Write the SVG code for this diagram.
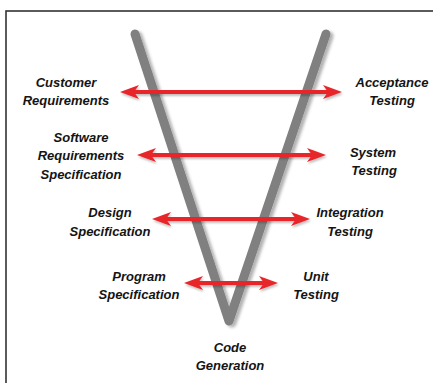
<svg xmlns="http://www.w3.org/2000/svg" width="433" height="383" viewBox="0 0 433 383">
<style>
.lbl{font-family:"Liberation Sans",Arial,sans-serif;font-weight:bold;font-style:italic;font-size:13px;fill:#141414;text-anchor:middle}
.arm{stroke:#808080;stroke-width:9;stroke-linecap:round;stroke-linejoin:round;fill:none}
.arr{stroke:#e8262a;stroke-width:4;fill:none}
</style>
<defs>
<filter id="sh" x="-20%" y="-20%" width="140%" height="140%">
<feDropShadow dx="3" dy="2" stdDeviation="1.8" flood-color="#000" flood-opacity="0.3"/>
</filter>
<filter id="ash" x="-10%" y="-50%" width="120%" height="200%">
<feDropShadow dx="1" dy="2" stdDeviation="1.2" flood-color="#000" flood-opacity="0.25"/>
</filter>
<marker id="ah" markerUnits="userSpaceOnUse" markerWidth="20" markerHeight="16" viewBox="0 0 20 16" refX="8" refY="8" orient="auto-start-reverse">
<path d="M0,1 L19,8 L0,15 L5,8 Z" fill="#e8262a"/>
</marker>
</defs>
<rect width="433" height="383" fill="#fff"/>
<rect x="6" y="11" width="440" height="390" fill="none" stroke="#333" stroke-width="1.6"/>
<g id="vshape" filter="url(#sh)">
<polyline class="arm" points="135,34 229,321 326,34"/>
</g>
<g id="connectors" filter="url(#ash)">
<line class="arr" x1="131" y1="92" x2="331" y2="92" marker-start="url(#ah)" marker-end="url(#ah)"/>
<line class="arr" x1="148" y1="155" x2="315" y2="155" marker-start="url(#ah)" marker-end="url(#ah)"/>
<line class="arr" x1="163" y1="219" x2="299" y2="219" marker-start="url(#ah)" marker-end="url(#ah)"/>
<line class="arr" x1="195" y1="283" x2="267" y2="283" marker-start="url(#ah)" marker-end="url(#ah)"/>
</g>
<g id="customer-requirements"><text class="lbl" x="66" y="87">Customer</text><text class="lbl" x="66" y="105">Requirements</text></g>
<g id="software-requirements"><text class="lbl" x="81" y="142">Software</text><text class="lbl" x="81" y="160">Requirements</text><text class="lbl" x="81" y="179">Specification</text></g>
<g id="design-specification"><text class="lbl" x="110" y="217">Design</text><text class="lbl" x="110" y="236">Specification</text></g>
<g id="program-specification"><text class="lbl" x="139" y="281">Program</text><text class="lbl" x="139" y="299">Specification</text></g>
<g id="code-generation"><text class="lbl" x="230" y="352">Code</text><text class="lbl" x="230" y="370">Generation</text></g>
<g id="unit-testing"><text class="lbl" x="316" y="281">Unit</text><text class="lbl" x="316" y="299">Testing</text></g>
<g id="integration-testing"><text class="lbl" x="350" y="217">Integration</text><text class="lbl" x="350" y="236">Testing</text></g>
<g id="system-testing"><text class="lbl" x="373" y="157">System</text><text class="lbl" x="374" y="175">Testing</text></g>
<g id="acceptance-testing"><text class="lbl" x="392" y="87">Acceptance</text><text class="lbl" x="392" y="105">Testing</text></g>
</svg>
